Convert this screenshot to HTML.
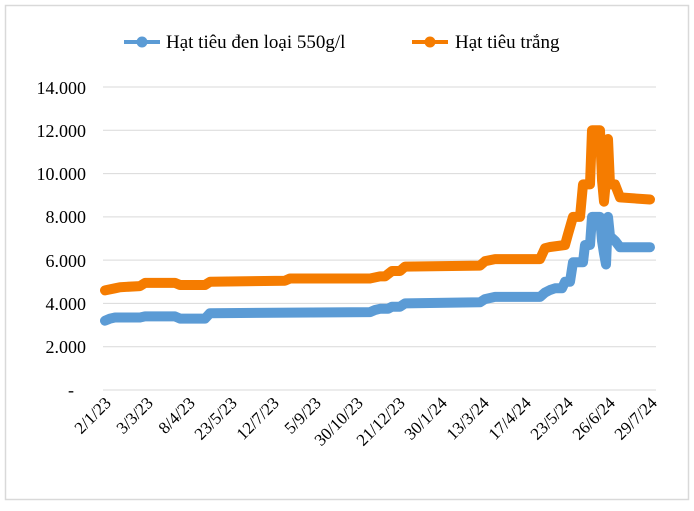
<!DOCTYPE html>
<html><head><meta charset="utf-8"><style>body{margin:0;background:#fff}</style></head><body>
<svg width="694" height="506" xmlns="http://www.w3.org/2000/svg" font-family="Liberation Serif, serif">
<rect x="5.5" y="5.5" width="683" height="494" fill="#fff" stroke="#d9d9d9" stroke-width="1.5"/>
<g stroke="#d9d9d9" stroke-width="1">
<line x1="103" x2="656" y1="87" y2="87"/><line x1="103" x2="656" y1="130.3" y2="130.3"/>
<line x1="103" x2="656" y1="173.6" y2="173.6"/><line x1="103" x2="656" y1="216.9" y2="216.9"/>
<line x1="103" x2="656" y1="260.1" y2="260.1"/><line x1="103" x2="656" y1="303.4" y2="303.4"/>
<line x1="103" x2="656" y1="346.7" y2="346.7"/><line x1="103" x2="656" y1="390" y2="390"/>
</g>
<g font-size="18" text-anchor="end" fill="#000">
<text x="86" y="94">14.000</text><text x="86" y="137">12.000</text><text x="86" y="180">10.000</text>
<text x="86" y="223">8.000</text><text x="86" y="267">6.000</text><text x="86" y="310">4.000</text>
<text x="86" y="353">2.000</text><text x="74" y="396">-</text>
</g>
<g font-size="17" text-anchor="end" fill="#000">
<text transform="translate(112,404) rotate(-45)">2/1/23</text>
<text transform="translate(154,404) rotate(-45)">3/3/23</text>
<text transform="translate(196,404) rotate(-45)">8/4/23</text>
<text transform="translate(238,404) rotate(-45)">23/5/23</text>
<text transform="translate(280,404) rotate(-45)">12/7/23</text>
<text transform="translate(322,404) rotate(-45)">5/9/23</text>
<text transform="translate(364,404) rotate(-45)">30/10/23</text>
<text transform="translate(406,404) rotate(-45)">21/12/23</text>
<text transform="translate(448,404) rotate(-45)">30/1/24</text>
<text transform="translate(490,404) rotate(-45)">13/3/24</text>
<text transform="translate(532,404) rotate(-45)">17/4/24</text>
<text transform="translate(574,404) rotate(-45)">23/5/24</text>
<text transform="translate(616,404) rotate(-45)">26/6/24</text>
<text transform="translate(658,404) rotate(-45)">29/7/24</text>
</g>
<g fill="none" stroke-linejoin="round" stroke-linecap="round" stroke-width="10">
<polyline stroke="#5b9bd5" points="105,320.7 110,318.6 115,317.5 140,317.5 145,316.4 175,316.4 180,318.6 205,318.6 210,313.2 370,312.1 375,310 380,308.8 388,308.8 392,306.7 400,306.7 405,303.4 480,302.3 485,299.1 495,296.9 540,296.9 545,292.6 550,290 555,288.3 562,288.3 565,281.8 570,281.8 573,262.3 583,262.3 585,245 590,245 592,216.9 600,216.9 602,240.7 604,253.6 606,264.5 608,216.9 610,236.3 615,240.7 620,247.2 650,247.2"/>
<polyline stroke="#f57c00" points="105,290.4 115,288.3 120,287.2 140,286.1 145,282.9 175,282.9 180,285 205,285 210,281.8 285,280.7 290,278.5 370,278.5 380,276.4 385,276.4 392,271 400,271 405,266.6 480,265.6 485,261.2 495,259.1 540,259.1 545,248.2 550,247 565,245 568,234.2 573,216.9 580,216.9 583,184.4 590,184.4 592,130.3 600,130.3 602,180.1 604,201.7 606,180.1 608,139 610,184.4 615,184.4 620,197.4 650,199.5"/>
</g>
<line x1="124" x2="160" y1="42" y2="42" stroke="#5b9bd5" stroke-width="4"/>
<circle cx="142" cy="42" r="5.5" fill="#5b9bd5"/>
<text x="166" y="48" font-size="19">Hạt tiêu đen loại 550g/l</text>
<line x1="412" x2="448" y1="42" y2="42" stroke="#f57c00" stroke-width="4"/>
<circle cx="430" cy="42" r="5.5" fill="#f57c00"/>
<text x="455" y="48" font-size="19">Hạt tiêu trắng</text>
</svg>
</body></html>
